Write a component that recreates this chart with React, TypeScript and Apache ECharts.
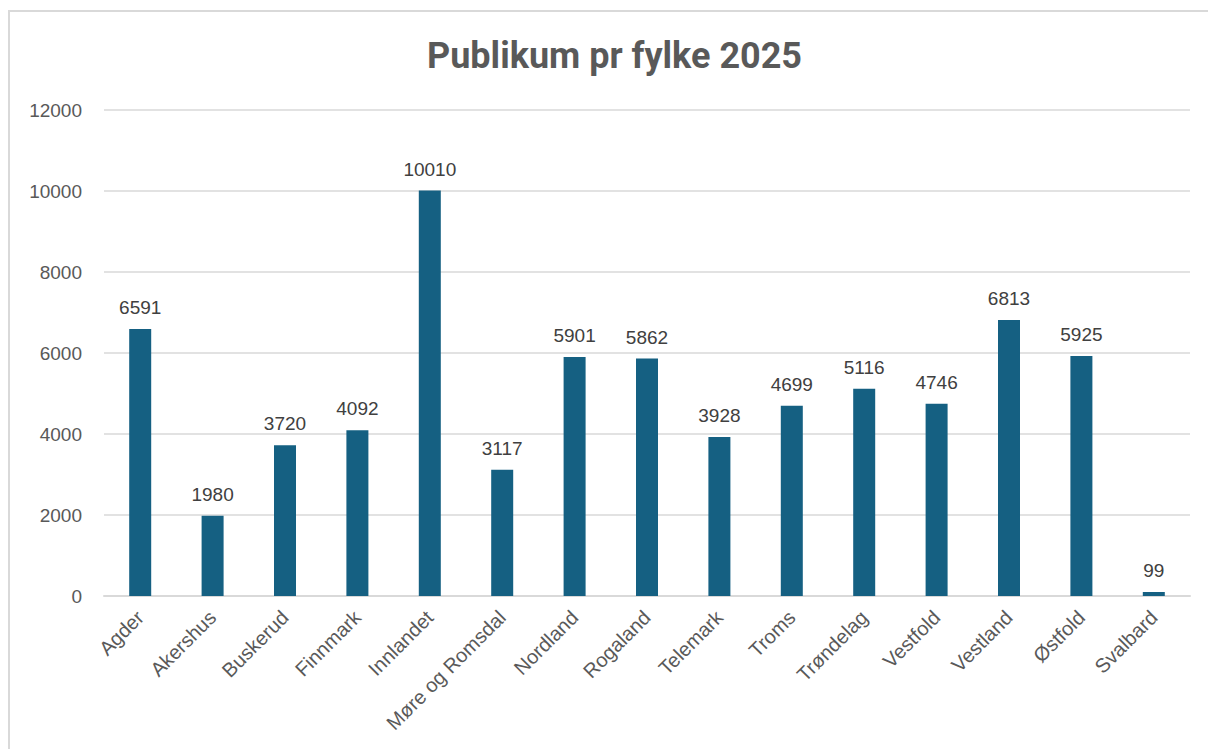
import React, { useEffect, useRef } from "react";
import * as echarts from "echarts";

const categories = [
  "Agder", "Akershus", "Buskerud", "Finnmark", "Innlandet", "Møre og Romsdal",
  "Nordland", "Rogaland", "Telemark", "Troms", "Trøndelag", "Vestfold",
  "Vestland", "Østfold", "Svalbard",
];
const values = [6591, 1980, 3720, 4092, 10010, 3117, 5901, 5862, 3928, 4699, 5116, 4746, 6813, 5925, 99];
const titleText = "Publikum pr fylke 2025";
const yMin = 0;
const yMax = 12000;
const yStep = 2000;

export default function App() {
  const ref = useRef<HTMLDivElement>(null);
  useEffect(() => {
    if (!ref.current) return;
    const chart = echarts.init(ref.current, null, { renderer: "svg" });
    const font = "'Liberation Sans', Arial, sans-serif";
    chart.setOption({
      animation: false,
      backgroundColor: "#ffffff",
      title: {
        text: titleText,
        left: 422,
        top: 33,
        textStyle: { fontFamily: "Roboto, sans-serif", fontWeight: "bold", fontSize: 36, color: "#595959" },
      },
      graphic: [
        {
          type: "rect",
          shape: { x: 9, y: 11, width: 1210, height: 760 },
          style: { fill: "none", stroke: "#d9d9d9", lineWidth: 2 },
          silent: true,
        },
      ],
      grid: { left: 104, right: 18, top: 110, bottom: 153 },
      xAxis: {
        type: "category",
        data: categories,
        axisLine: { show: true, lineStyle: { color: "#d9d9d9", width: 2 } },
        axisTick: { show: false },
        axisLabel: {
          rotate: 45,
          margin: 18,
          interval: 0,
          fontFamily: font,
          fontSize: 20,
          color: "#595959",
        },
      },
      yAxis: {
        type: "value",
        min: yMin,
        max: yMax,
        interval: yStep,
        axisLine: { show: false },
        axisTick: { show: false },
        splitLine: { lineStyle: { color: "#d9d9d9", width: 1.5 } },
        axisLabel: {
          margin: 22,
          fontFamily: font,
          fontSize: 19,
          color: "#595959",
          formatter: (v: number) => String(v),
        },
      },
      series: [
        {
          type: "bar",
          data: values,
          barWidth: 22,
          itemStyle: { color: "#156082" },
          label: {
            show: true,
            position: "top",
            distance: 12,
            fontFamily: font,
            fontSize: 19,
            color: "#404040",
          },
        },
      ],
    });
    return () => chart.dispose();
  }, []);
  return (
    <div
      ref={ref}
      style={{ position: "fixed", left: 0, top: 0, width: 1208, height: 749, background: "#fff" }}
    />
  );
}
